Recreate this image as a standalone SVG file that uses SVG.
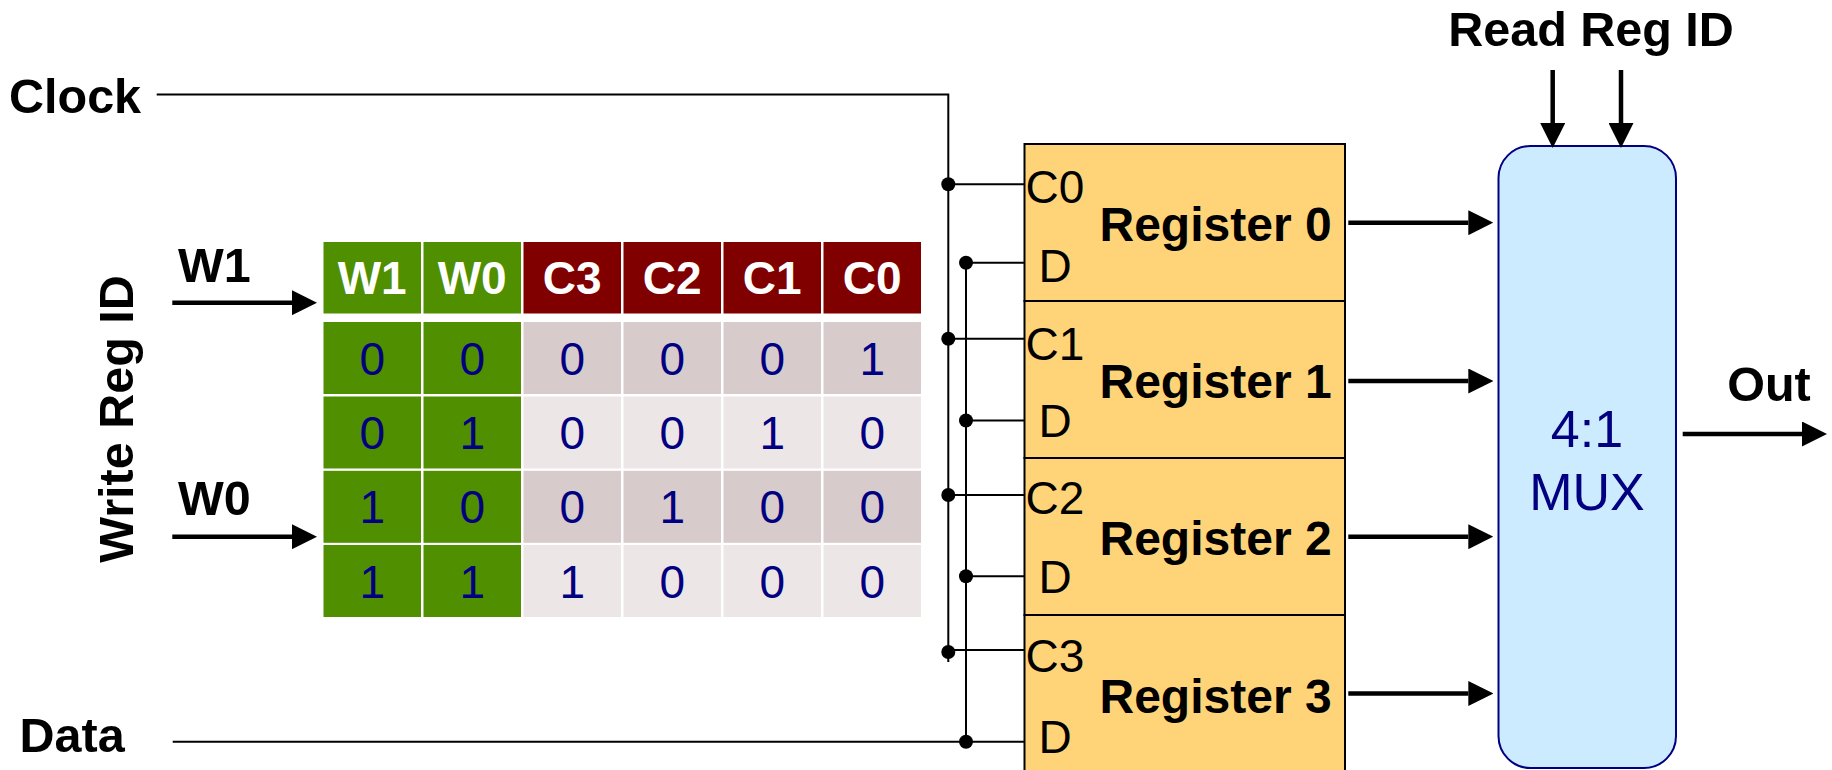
<svg xmlns="http://www.w3.org/2000/svg" width="1832" height="770" viewBox="0 0 1832 770">
<style>
.lbl{font-family:"Liberation Sans",Arial,Helvetica,sans-serif;font-weight:bold;font-size:48.5px;fill:#000}
.hdr{font-family:"Liberation Sans",Arial,Helvetica,sans-serif;font-weight:bold;font-size:46px;fill:#fff;text-anchor:middle}
.dig{font-family:"Liberation Sans",Arial,Helvetica,sans-serif;font-size:46px;fill:#000080;text-anchor:middle}
.pin{font-family:"Liberation Sans",Arial,Helvetica,sans-serif;font-size:46px;fill:#000}
.reg{font-family:"Liberation Sans",Arial,Helvetica,sans-serif;font-weight:bold;font-size:48px;fill:#000}
.mux{font-family:"Liberation Sans",Arial,Helvetica,sans-serif;font-size:52px;fill:#000080;text-anchor:middle}
.g{fill:#4F8F00}
.m{fill:#800000}
.a{fill:#D8CBCB}
.b{fill:#EDE6E6}
.regbox{fill:#FFD479;stroke:#000;stroke-width:2}
.wire{stroke:#000;stroke-width:2;fill:none}
.arr{stroke:#000;stroke-width:4.5;fill:none;marker-end:url(#ah)}
.dot{fill:#000}
</style>
<defs>
<marker id="ah" markerUnits="userSpaceOnUse" viewBox="0 0 25 25" refX="0" refY="12.5" markerWidth="25" markerHeight="25" orient="auto">
<path d="M0,0 L25,12.5 L0,25 z" fill="#000"/>
</marker>
</defs>

<g id="labels">
<text class="lbl" x="9" y="113">Clock</text>
<text class="lbl" x="178" y="281.7">W1</text>
<text class="lbl" x="178" y="515">W0</text>
<text class="lbl" x="19.5" y="752.3">Data</text>
<text class="lbl" text-anchor="middle" transform="translate(133,419) rotate(-90)">Write Reg ID</text>
<text class="lbl" x="1591" y="45.7" text-anchor="middle">Read Reg ID</text>
<text class="lbl" x="1769" y="400.7" text-anchor="middle">Out</text>
</g>

<g id="decoder-table">
<rect class="g" x="323.5" y="242" width="97.5" height="71.5"/>
<rect class="g" x="423.5" y="242" width="97.5" height="71.5"/>
<rect class="m" x="523.5" y="242" width="97.5" height="71.5"/>
<rect class="m" x="623.5" y="242" width="97.5" height="71.5"/>
<rect class="m" x="723.5" y="242" width="97.5" height="71.5"/>
<rect class="m" x="823.5" y="242" width="97.5" height="71.5"/>
<text class="hdr" x="372.2" y="294.3">W1</text>
<text class="hdr" x="472.2" y="294.3">W0</text>
<text class="hdr" x="572.2" y="294.3">C3</text>
<text class="hdr" x="672.2" y="294.3">C2</text>
<text class="hdr" x="772.2" y="294.3">C1</text>
<text class="hdr" x="872.2" y="294.3">C0</text>

<rect class="g" x="323.5" y="322" width="97.5" height="72"/>
<rect class="g" x="423.5" y="322" width="97.5" height="72"/>
<rect class="a" x="523.5" y="322" width="97.5" height="72"/>
<rect class="a" x="623.5" y="322" width="97.5" height="72"/>
<rect class="a" x="723.5" y="322" width="97.5" height="72"/>
<rect class="a" x="823.5" y="322" width="97.5" height="72"/>

<rect class="g" x="323.5" y="396.5" width="97.5" height="72"/>
<rect class="g" x="423.5" y="396.5" width="97.5" height="72"/>
<rect class="b" x="523.5" y="396.5" width="97.5" height="72"/>
<rect class="b" x="623.5" y="396.5" width="97.5" height="72"/>
<rect class="b" x="723.5" y="396.5" width="97.5" height="72"/>
<rect class="b" x="823.5" y="396.5" width="97.5" height="72"/>

<rect class="g" x="323.5" y="470.8" width="97.5" height="72"/>
<rect class="g" x="423.5" y="470.8" width="97.5" height="72"/>
<rect class="a" x="523.5" y="470.8" width="97.5" height="72"/>
<rect class="a" x="623.5" y="470.8" width="97.5" height="72"/>
<rect class="a" x="723.5" y="470.8" width="97.5" height="72"/>
<rect class="a" x="823.5" y="470.8" width="97.5" height="72"/>

<rect class="g" x="323.5" y="545" width="97.5" height="72"/>
<rect class="g" x="423.5" y="545" width="97.5" height="72"/>
<rect class="b" x="523.5" y="545" width="97.5" height="72"/>
<rect class="b" x="623.5" y="545" width="97.5" height="72"/>
<rect class="b" x="723.5" y="545" width="97.5" height="72"/>
<rect class="b" x="823.5" y="545" width="97.5" height="72"/>

<text class="dig" x="372.2" y="374.5">0</text>
<text class="dig" x="472.2" y="374.5">0</text>
<text class="dig" x="572.2" y="374.5">0</text>
<text class="dig" x="672.2" y="374.5">0</text>
<text class="dig" x="772.2" y="374.5">0</text>
<text class="dig" x="872.2" y="374.5">1</text>

<text class="dig" x="372.2" y="449">0</text>
<text class="dig" x="472.2" y="449">1</text>
<text class="dig" x="572.2" y="449">0</text>
<text class="dig" x="672.2" y="449">0</text>
<text class="dig" x="772.2" y="449">1</text>
<text class="dig" x="872.2" y="449">0</text>

<text class="dig" x="372.2" y="523.3">1</text>
<text class="dig" x="472.2" y="523.3">0</text>
<text class="dig" x="572.2" y="523.3">0</text>
<text class="dig" x="672.2" y="523.3">1</text>
<text class="dig" x="772.2" y="523.3">0</text>
<text class="dig" x="872.2" y="523.3">0</text>

<text class="dig" x="372.2" y="597.5">1</text>
<text class="dig" x="472.2" y="597.5">1</text>
<text class="dig" x="572.2" y="597.5">1</text>
<text class="dig" x="672.2" y="597.5">0</text>
<text class="dig" x="772.2" y="597.5">0</text>
<text class="dig" x="872.2" y="597.5">0</text>
</g>

<g id="register0">
<rect class="regbox" x="1024.5" y="144" width="320.5" height="157"/>
<text class="pin" x="1025.5" y="202.7">C0</text>
<text class="pin" x="1038.5" y="282.3">D</text>
<text class="reg" x="1099.5" y="240.7">Register 0</text>
</g>
<g id="register1">
<rect class="regbox" x="1024.5" y="301" width="320.5" height="157"/>
<text class="pin" x="1025.5" y="360">C1</text>
<text class="pin" x="1038.5" y="436.7">D</text>
<text class="reg" x="1099.5" y="398.3">Register 1</text>
</g>
<g id="register2">
<rect class="regbox" x="1024.5" y="458" width="320.5" height="157"/>
<text class="pin" x="1025.5" y="514.3">C2</text>
<text class="pin" x="1038.5" y="593.3">D</text>
<text class="reg" x="1099.5" y="554.5">Register 2</text>
</g>
<g id="register3">
<rect class="regbox" x="1024.5" y="615" width="320.5" height="157"/>
<text class="pin" x="1025.5" y="671.7">C3</text>
<text class="pin" x="1038.5" y="752.7">D</text>
<text class="reg" x="1099.5" y="712.7">Register 3</text>
</g>

<g id="mux">
<rect x="1498.5" y="146" width="177.5" height="622" rx="32" ry="32" fill="#CCEBFF" stroke="#000080" stroke-width="2"/>
<text class="mux" x="1587" y="446.7">4:1</text>
<text class="mux" x="1587" y="510">MUX</text>
</g>

<g id="connectors">
<polyline class="wire" points="156.7,94.5 948.3,94.5 948.3,662"/>
<line class="wire" x1="172.7" y1="741.7" x2="1024.5" y2="741.7"/>
<line class="wire" x1="966" y1="262.7" x2="966" y2="741.7"/>
<line class="wire" x1="948.3" y1="184.3" x2="1024.5" y2="184.3"/>
<line class="wire" x1="948.3" y1="338.8" x2="1024.5" y2="338.8"/>
<line class="wire" x1="948.3" y1="495" x2="1024.5" y2="495"/>
<line class="wire" x1="948.3" y1="650" x2="1024.5" y2="650"/>
<line class="wire" x1="966" y1="262.7" x2="1024.5" y2="262.7"/>
<line class="wire" x1="966" y1="420.5" x2="1024.5" y2="420.5"/>
<line class="wire" x1="966" y1="576.2" x2="1024.5" y2="576.2"/>
<circle class="dot" cx="948.3" cy="184.3" r="7"/>
<circle class="dot" cx="948.3" cy="338.8" r="7"/>
<circle class="dot" cx="948.3" cy="495" r="7"/>
<circle class="dot" cx="948.3" cy="652" r="7"/>
<circle class="dot" cx="966" cy="262.7" r="7"/>
<circle class="dot" cx="966" cy="420.5" r="7"/>
<circle class="dot" cx="966" cy="576.2" r="7"/>
<circle class="dot" cx="966" cy="741.7" r="7"/>
<line class="arr" x1="172.3" y1="302.7" x2="292" y2="302.7"/>
<line class="arr" x1="172.3" y1="536.7" x2="292" y2="536.7"/>
<line class="arr" x1="1348.3" y1="222.7" x2="1468.3" y2="222.7"/>
<line class="arr" x1="1348.3" y1="381" x2="1468.3" y2="381"/>
<line class="arr" x1="1348.3" y1="536.7" x2="1468.3" y2="536.7"/>
<line class="arr" x1="1348.3" y1="693.5" x2="1468.3" y2="693.5"/>
<line class="arr" x1="1552.7" y1="70" x2="1552.7" y2="123"/>
<line class="arr" x1="1621" y1="70" x2="1621" y2="123"/>
<line class="arr" x1="1682.7" y1="434" x2="1802" y2="434"/>
</g>
</svg>
